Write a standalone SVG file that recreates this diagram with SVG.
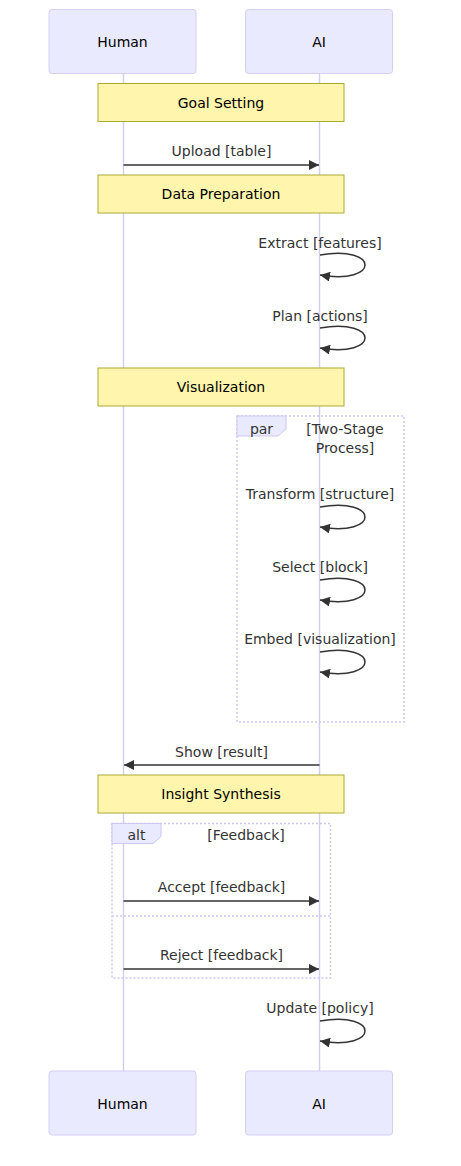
<svg xmlns="http://www.w3.org/2000/svg" width="461" height="1166" viewBox="0 0 461 1166">
<style>
text{font-family:"DejaVu Sans",Verdana,sans-serif;font-size:14px;text-anchor:middle;dominant-baseline:central}
.actor{fill:#eaeaff;stroke:#d6cdf3;stroke-width:1}
.actor-t{fill:#000}
.life{stroke:#d6cdf3;stroke-width:1.5}
.note{fill:#fff5ad;stroke:#aaaa33;stroke-width:1}
.note-t{fill:#000}
.msg{stroke:#333;stroke-width:1.5;fill:none}
.msg-t{fill:#333}
.loop{fill:none;stroke:#cdc7f2;stroke-width:1.5;stroke-dasharray:2,2}
.lbox{fill:#eaeaff;stroke:#cdc7f2;stroke-width:1}
.lbl{fill:#333}
</style>
<defs>
<marker id="ah" markerUnits="userSpaceOnUse" markerWidth="10" markerHeight="10" refX="10" refY="5" orient="auto">
<path d="M0,0 L10,5 L0,10 z" fill="#333"/>
</marker>
</defs>
<g id="lifelines">
<line class="life" x1="123.5" y1="73" x2="123.5" y2="1071"/>
<line class="life" x1="319.5" y1="73" x2="319.5" y2="1071"/>
</g>
<g id="actor-human-top"><rect class="actor" x="49" y="9.5" width="147" height="64" rx="3"/><text class="actor-t" x="122.5" y="42">Human</text></g>
<g id="actor-ai-top"><rect class="actor" x="245.5" y="9.5" width="147" height="64" rx="3"/><text class="actor-t" x="319" y="42">AI</text></g>
<g id="actor-human-bottom"><rect class="actor" x="49" y="1071" width="147" height="64" rx="3"/><text class="actor-t" x="122.5" y="1104">Human</text></g>
<g id="actor-ai-bottom"><rect class="actor" x="245.5" y="1071" width="147" height="64" rx="3"/><text class="actor-t" x="319" y="1104">AI</text></g>
<g id="note-goal"><rect class="note" x="98" y="83.5" width="246" height="38"/><text class="note-t" x="221" y="102.5">Goal Setting</text></g>
<g id="note-data"><rect class="note" x="98" y="175" width="246" height="38"/><text class="note-t" x="221" y="194">Data Preparation</text></g>
<g id="note-vis"><rect class="note" x="98" y="368" width="246" height="38"/><text class="note-t" x="221" y="387">Visualization</text></g>
<g id="note-insight"><rect class="note" x="98" y="775" width="246" height="38"/><text class="note-t" x="221" y="794">Insight Synthesis</text></g>
<g id="par-block">
<rect class="loop" x="237" y="416" width="167" height="306"/>
<polygon class="lbox" points="237,416 286,416 286,429 278,436 237,436"/>
<text class="lbl" x="261.5" y="428.5">par</text>
<text class="lbl" x="345" y="428.5">[Two-Stage</text>
<text class="lbl" x="345" y="447.5">Process]</text>
</g>
<g id="alt-block">
<rect class="loop" x="112" y="823.5" width="218.5" height="154.5"/>
<line class="loop" x1="112" y1="916" x2="330.5" y2="916"/>
<polygon class="lbox" points="112,823.5 161,823.5 161,836.5 153,843.5 112,843.5"/>
<text class="lbl" x="136.5" y="835">alt</text>
<text class="lbl" x="246" y="835">[Feedback]</text>
</g>
<g id="connectors">
<line class="msg" x1="123.5" y1="165" x2="319" y2="165" marker-end="url(#ah)"/>
<text class="msg-t" x="221.5" y="151">Upload [table]</text>
<path class="msg" d="M320,255 C380,245 380,285 320,275" marker-end="url(#ah)"/>
<text class="msg-t" x="320" y="243">Extract [features]</text>
<path class="msg" d="M320,328 C380,318 380,358 320,348" marker-end="url(#ah)"/>
<text class="msg-t" x="320" y="316">Plan [actions]</text>
<path class="msg" d="M320,507 C380,497 380,537 320,527" marker-end="url(#ah)"/>
<text class="msg-t" x="320" y="494">Transform [structure]</text>
<path class="msg" d="M320,580 C380,570 380,610 320,600" marker-end="url(#ah)"/>
<text class="msg-t" x="320" y="567">Select [block]</text>
<path class="msg" d="M320,652 C380,642 380,682 320,672" marker-end="url(#ah)"/>
<text class="msg-t" x="320" y="639">Embed [visualization]</text>
<line class="msg" x1="319.5" y1="765" x2="124" y2="765" marker-end="url(#ah)"/>
<text class="msg-t" x="221.5" y="752">Show [result]</text>
<line class="msg" x1="123.5" y1="901" x2="319" y2="901" marker-end="url(#ah)"/>
<text class="msg-t" x="221.5" y="887">Accept [feedback]</text>
<line class="msg" x1="123.5" y1="969" x2="319" y2="969" marker-end="url(#ah)"/>
<text class="msg-t" x="221.5" y="955">Reject [feedback]</text>
<path class="msg" d="M320,1021 C380,1011 380,1051 320,1041" marker-end="url(#ah)"/>
<text class="msg-t" x="320" y="1008">Update [policy]</text>
</g>
</svg>
